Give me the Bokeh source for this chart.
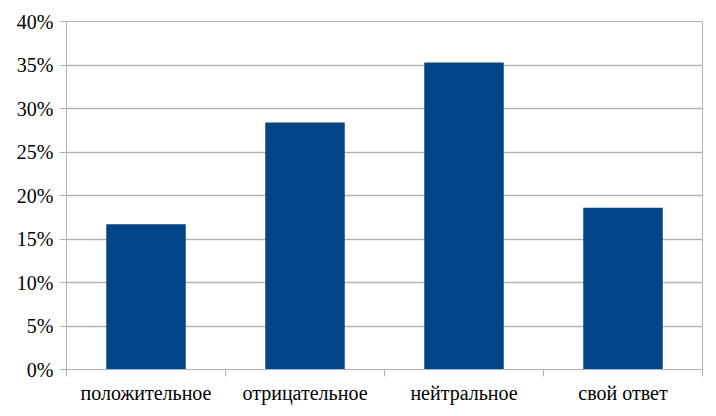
from bokeh.plotting import figure
from bokeh.models import ColumnDataSource, FixedTicker, NumeralTickFormatter, Range1d
from bokeh.embed import file_html
from bokeh.resources import INLINE

categories = ["положительное", "отрицательное", "нейтральное", "свой ответ"]
values = [0.167, 0.284, 0.353, 0.186]
y_ticks = [0.0, 0.05, 0.10, 0.15, 0.20, 0.25, 0.30, 0.35, 0.40]

xpos = [i + 0.5 for i in range(len(categories))]
src = ColumnDataSource(dict(x=xpos, top=values, cat=categories))

GRID = "#b3b3b3"
FONT = "Liberation Serif"

p = figure(width=716, height=416, output_backend="svg", toolbar_location=None,
           x_range=Range1d(0, len(categories)), y_range=Range1d(0, 0.40),
           min_border_left=66, min_border_right=14, min_border_top=21, min_border_bottom=47)

p.vbar(x="x", top="top", width=0.5, bottom=0, source=src, color="#004586", line_color=None)

p.outline_line_color = GRID
p.xgrid.visible = False
p.ygrid.grid_line_color = GRID
p.ygrid.grid_line_width = 1.5

# x axis: labels at centres, tick marks at category boundaries
p.xaxis.ticker = FixedTicker(ticks=xpos, minor_ticks=list(range(len(categories) + 1)))
p.xaxis.major_label_overrides = {x: c for x, c in zip(xpos, categories)}
p.xaxis.major_tick_out = 0
p.xaxis.major_tick_in = 0
p.xaxis.minor_tick_out = 7
p.xaxis.minor_tick_in = 0
p.xaxis.minor_tick_line_color = GRID
p.xaxis.axis_line_color = GRID
p.xaxis.major_label_standoff = 5

p.yaxis.ticker = FixedTicker(ticks=y_ticks)
p.yaxis.formatter = NumeralTickFormatter(format="0%")
p.yaxis.major_tick_out = 7
p.yaxis.major_tick_in = 0
p.yaxis.minor_tick_line_color = None
p.yaxis.major_tick_line_color = GRID
p.yaxis.axis_line_color = GRID
p.yaxis.major_label_standoff = 6

for ax in (p.xaxis, p.yaxis):
    ax.major_label_text_font = FONT
    ax.major_label_text_font_size = "20px"
    ax.major_label_text_color = "#000000"

open("out.html", "w").write(file_html(p, INLINE))
